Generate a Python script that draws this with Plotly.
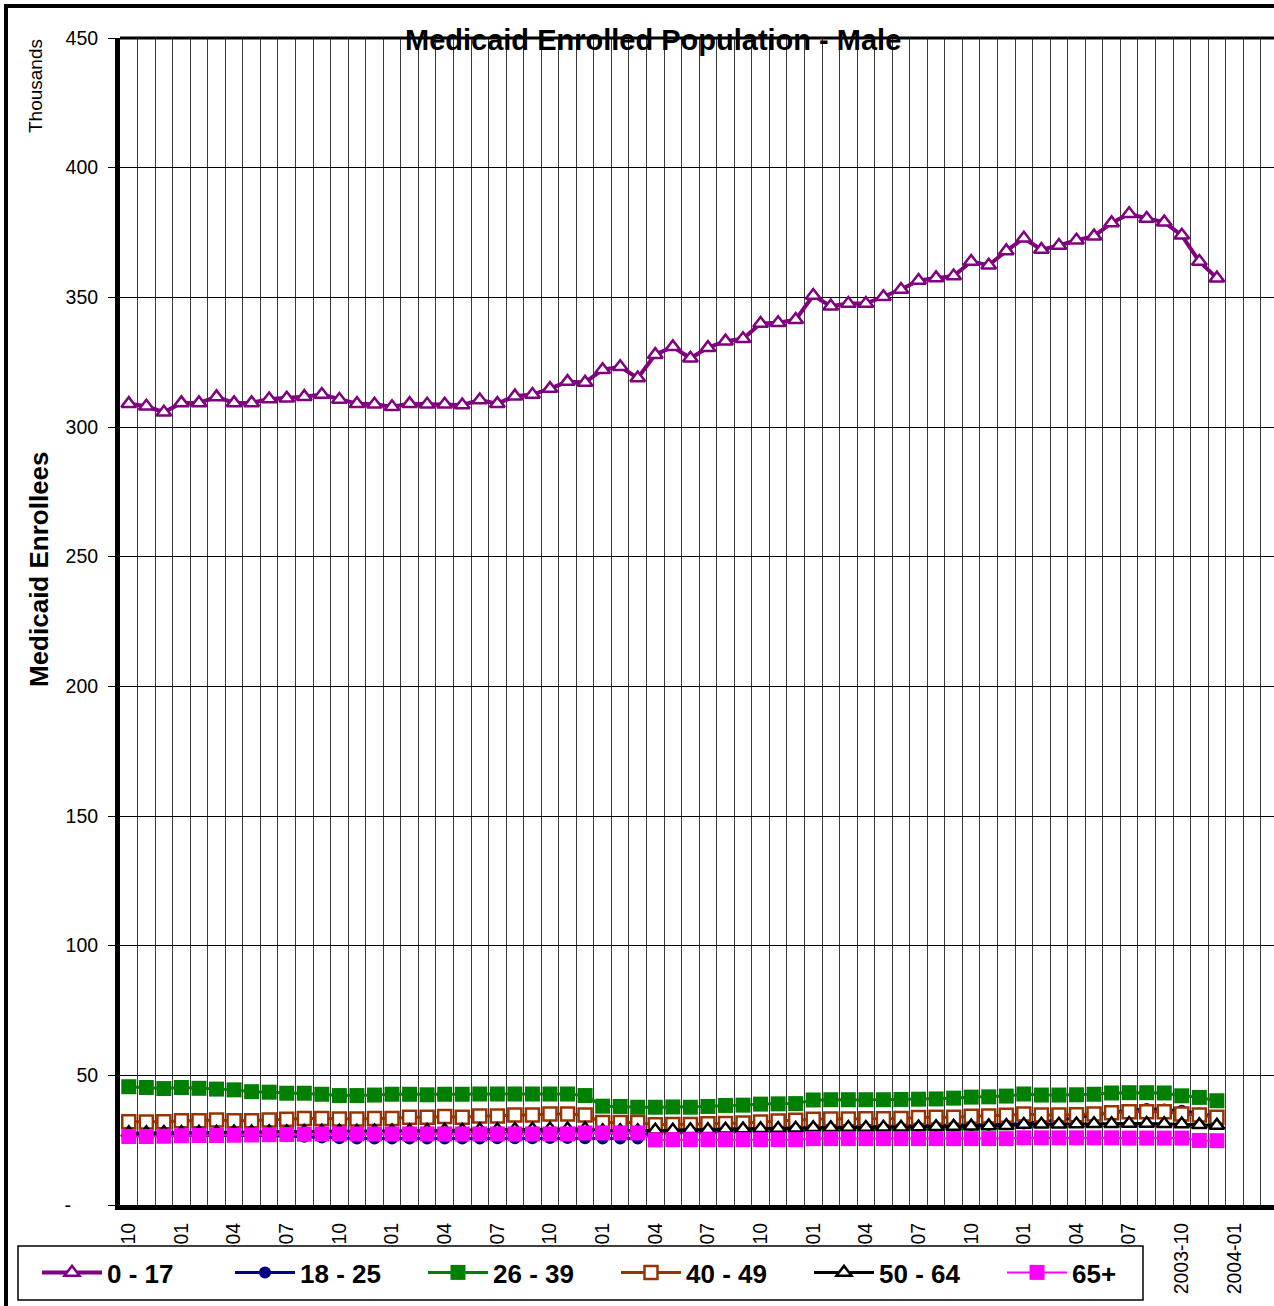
import numpy as np
import plotly.graph_objects as go

# Monthly enrolment (thousands), October 1998 through December 2003
months = ["1998-10", "1998-11", "1998-12",
          "1999-01", "1999-02", "1999-03", "1999-04", "1999-05", "1999-06",
          "1999-07", "1999-08", "1999-09", "1999-10", "1999-11", "1999-12",
          "2000-01", "2000-02", "2000-03", "2000-04", "2000-05", "2000-06",
          "2000-07", "2000-08", "2000-09", "2000-10", "2000-11", "2000-12",
          "2001-01", "2001-02", "2001-03", "2001-04", "2001-05", "2001-06",
          "2001-07", "2001-08", "2001-09", "2001-10", "2001-11", "2001-12",
          "2002-01", "2002-02", "2002-03", "2002-04", "2002-05", "2002-06",
          "2002-07", "2002-08", "2002-09", "2002-10", "2002-11", "2002-12",
          "2003-01", "2003-02", "2003-03", "2003-04", "2003-05", "2003-06",
          "2003-07", "2003-08", "2003-09", "2003-10", "2003-11", "2003-12"]

age_0_17 = [309.0, 308.0, 305.7, 309.3, 309.3, 311.6, 309.3, 309.3, 310.8, 311.1,
            311.7, 312.5, 310.6, 309.0, 308.8, 307.8, 309.0, 308.8, 308.8, 308.5,
            310.4, 309.0, 311.9, 312.5, 314.8, 317.5, 317.2, 322.1, 323.2, 318.9,
            327.9, 330.9, 326.5, 330.6, 333.1, 334.0, 339.9, 340.2, 341.4, 350.7,
            346.6, 347.6, 347.6, 350.2, 353.0, 356.5, 357.5, 358.2, 363.8, 362.4,
            367.9, 372.8, 368.4, 370.0, 372.0, 373.6, 378.7, 382.2, 380.4, 379.0,
            373.9, 363.8, 357.4]

age_18_25 = [26.8, 26.8, 26.8, 26.8, 26.8, 26.8, 26.8, 26.8, 26.8, 26.5,
             26.3, 26.0, 25.7, 25.6, 25.6, 25.6, 25.6, 25.6, 25.6, 25.6,
             25.6, 25.7, 25.7, 25.7, 25.8, 25.8, 25.7, 25.6, 25.6, 25.6,
             28.6, 28.8, 29.0, 29.1, 29.2, 29.4, 29.5, 29.6, 29.8, 30.0,
             30.0, 30.1, 30.1, 30.2, 30.3, 30.4, 30.5, 30.6, 30.8, 30.9,
             31.1, 31.4, 32.0, 32.8, 33.6, 34.6, 35.8, 36.6, 37.0, 36.8,
             36.3, 35.3, 34.0]

age_26_39 = [45.6, 45.3, 44.9, 45.3, 45.0, 44.7, 44.4, 43.7, 43.5, 43.1,
             43.1, 42.7, 42.2, 42.2, 42.4, 42.7, 42.7, 42.5, 42.7, 42.7,
             42.8, 42.8, 42.8, 42.8, 42.8, 42.8, 42.2, 38.1, 38.0, 37.7,
             37.7, 37.8, 37.7, 38.0, 38.4, 38.5, 38.9, 39.0, 39.1, 40.5,
             40.6, 40.6, 40.6, 40.6, 40.7, 40.8, 40.9, 41.2, 41.6, 41.7,
             42.0, 42.8, 42.4, 42.4, 42.5, 42.7, 43.2, 43.3, 43.3, 43.2,
             42.1, 41.5, 40.2]

age_40_49 = [32.1, 32.0, 32.1, 32.5, 32.5, 32.8, 32.5, 32.5, 32.8, 33.1,
             33.4, 33.4, 33.2, 33.2, 33.4, 33.4, 33.8, 33.8, 34.1, 33.8,
             34.3, 34.3, 34.7, 34.7, 35.1, 35.1, 34.7, 31.8, 31.8, 31.8,
             30.9, 31.0, 31.0, 31.3, 31.4, 31.6, 32.0, 32.4, 32.7, 33.1,
             33.2, 33.2, 33.3, 33.3, 33.4, 33.7, 33.8, 33.8, 34.2, 34.3,
             34.6, 35.1, 34.7, 34.7, 34.8, 35.1, 35.6, 36.0, 36.0, 36.0,
             35.1, 34.7, 33.8]

age_50_64 = [27.8, 27.8, 27.9, 27.9, 28.0, 28.0, 28.1, 28.1, 28.2, 28.2,
             28.3, 28.4, 28.4, 28.4, 28.5, 28.5, 28.6, 28.7, 28.8, 28.8,
             29.0, 29.0, 29.1, 29.2, 29.3, 29.3, 29.4, 28.6, 28.6, 28.6,
             28.8, 28.8, 29.0, 29.0, 29.2, 29.3, 29.4, 29.5, 29.6, 29.8,
             29.8, 29.9, 29.9, 30.0, 30.0, 30.1, 30.2, 30.3, 30.4, 30.5,
             30.6, 31.0, 31.1, 31.1, 31.2, 31.3, 31.3, 31.4, 31.4, 31.3,
             31.2, 30.9, 30.7]

age_65_plus = [26.4, 26.4, 26.5, 26.7, 26.8, 26.8, 26.9, 27.0, 27.1, 27.2,
               27.3, 27.4, 27.4, 27.4, 27.4, 27.4, 27.4, 27.4, 27.4, 27.4,
               27.4, 27.4, 27.4, 27.4, 27.4, 27.4, 27.8, 27.8, 27.8, 27.8,
               25.1, 25.2, 25.2, 25.2, 25.2, 25.2, 25.2, 25.2, 25.2, 25.6,
               25.6, 25.6, 25.6, 25.6, 25.6, 25.6, 25.6, 25.6, 25.6, 25.6,
               25.6, 25.9, 25.9, 25.9, 25.9, 25.9, 25.9, 25.8, 25.8, 25.8,
               25.8, 24.9, 24.8]

# Quarterly axis labels (index 0 = 1998-10, one step per month)
tick_labels = ["1998-10", "1999-01", "1999-04", "1999-07", "1999-10",
               "2000-01", "2000-04", "2000-07", "2000-10", "2001-01",
               "2001-04", "2001-07", "2001-10", "2002-01", "2002-04",
               "2002-07", "2002-10", "2003-01", "2003-04", "2003-07",
               "2003-10", "2004-01"]
tick_pos = [3 * k for k in range(len(tick_labels))]

y_ticks = [0, 50, 100, 150, 200, 250, 300, 350, 400, 450]
y_tick_text = ["-" + "\u00a0" * 5] + [str(v) for v in y_ticks[1:]]

x = np.arange(len(months))

FONT = "Liberation Sans, Arial, sans-serif"

# Figure geometry in pixels
FW, FH = 1274, 1306
L, R, T, B = 120, 1274, 38, 1205


def px(v):
    return (v - L) / (R - L)


def py(v):
    return (B - v) / (B - T)


series = [
    ("0 - 17", age_0_17, "#800080", dict(symbol="triangle-up", size=13, color="white",
                                          line=dict(color="#800080", width=2.5)), 4),
    ("18 - 25", age_18_25, "#000080", dict(symbol="circle", size=12, color="#000080",
                                           line=dict(width=0)), 3),
    ("26 - 39", age_26_39, "#008000", dict(symbol="square", size=15, color="#008000",
                                           line=dict(width=0)), 3),
    ("40 - 49", age_40_49, "#993300", dict(symbol="square", size=13, color="white",
                                           line=dict(color="#993300", width=2.5)), 3),
    ("50 - 64", age_50_64, "#000000", dict(symbol="triangle-up", size=13, color="white",
                                           line=dict(color="#000000", width=2.5)), 3),
    ("65+", age_65_plus, "#FF00FF", dict(symbol="square", size=15, color="#FF00FF",
                                         line=dict(width=0)), 2),
]

fig = go.Figure()
for name, vals, col, mk, lw in series:
    fig.add_trace(go.Scatter(
        x=x, y=vals, name=name, mode="lines+markers",
        line=dict(color=col, width=lw), marker=mk,
        hovertemplate="%{y:.1f}<extra>" + name + "</extra>",
    ))

fig.update_layout(
    width=FW, height=FH,
    margin=dict(l=L, r=FW - R, t=T, b=FH - B, pad=0, autoexpand=False),
    paper_bgcolor="white", plot_bgcolor="white",
    showlegend=True,
    legend=dict(
        orientation="h", x=px(37), y=py(1249), xanchor="left", yanchor="top",
        bgcolor="rgba(0,0,0,0)", borderwidth=0,
        entrywidth=118, entrywidthmode="pixels", itemwidth=60,
        font=dict(family=FONT, size=26, color="black", weight="bold"),
        traceorder="normal",
    ),
    xaxis=dict(
        range=[-0.5, -0.5 + (R - L) / 17.55],
        tickmode="array", tickvals=tick_pos, ticktext=tick_labels,
        tickangle=-90, ticks="", showgrid=False, zeroline=False,
        tickfont=dict(family=FONT, size=19.5, color="black"),
        ticklabelstandoff=5,
        showline=True, linecolor="black", linewidth=5,
        minor=dict(tickmode="linear", tick0=-0.5, dtick=1, showgrid=True,
                   gridcolor="#3a3a3a", gridwidth=1, ticks=""),
    ),
    yaxis=dict(
        range=[0, 450], tickmode="array", tickvals=y_ticks, ticktext=y_tick_text,
        showgrid=True, gridcolor="black", gridwidth=1, zeroline=False,
        showline=True, linecolor="black", linewidth=5,
        ticks="outside", ticklen=7, tickcolor="black", tickwidth=1,
        tickfont=dict(family=FONT, size=19.5, color="black"),
        ticklabelstandoff=6,
    ),
    shapes=[
        # plot-area top border
        dict(type="line", xref="paper", yref="paper", x0=0, x1=1, y0=1, y1=1,
             line=dict(color="black", width=3), layer="above"),
        # legend box (covers the lower part of the rotated month labels)
        dict(type="rect", xref="paper", yref="paper",
             x0=px(18), x1=px(1143), y0=py(1246), y1=py(1300),
             fillcolor="white", line=dict(color="black", width=1.5), layer="above"),
        # chart border
        dict(type="rect", xref="paper", yref="paper",
             x0=px(6), x1=px(1300), y0=py(6), y1=py(1330),
             fillcolor="rgba(0,0,0,0)", line=dict(color="black", width=4), layer="above"),
    ],
    annotations=[
        dict(text="Medicaid Enrolled Population - Male", xref="paper", yref="paper",
             x=px(653), y=py(40), xanchor="center", yanchor="middle", showarrow=False,
             font=dict(family=FONT, size=29, color="black", weight="bold")),
        dict(text="Medicaid Enrollees", xref="paper", yref="paper",
             x=px(39), y=py(569), xanchor="center", yanchor="middle", showarrow=False,
             textangle=-90, font=dict(family=FONT, size=26, color="black", weight="bold")),
        dict(text="Thousands", xref="paper", yref="paper",
             x=px(36), y=py(86), xanchor="center", yanchor="middle", showarrow=False,
             textangle=-90, font=dict(family=FONT, size=19, color="black")),
    ],
)

fig.write_html("out.html")
